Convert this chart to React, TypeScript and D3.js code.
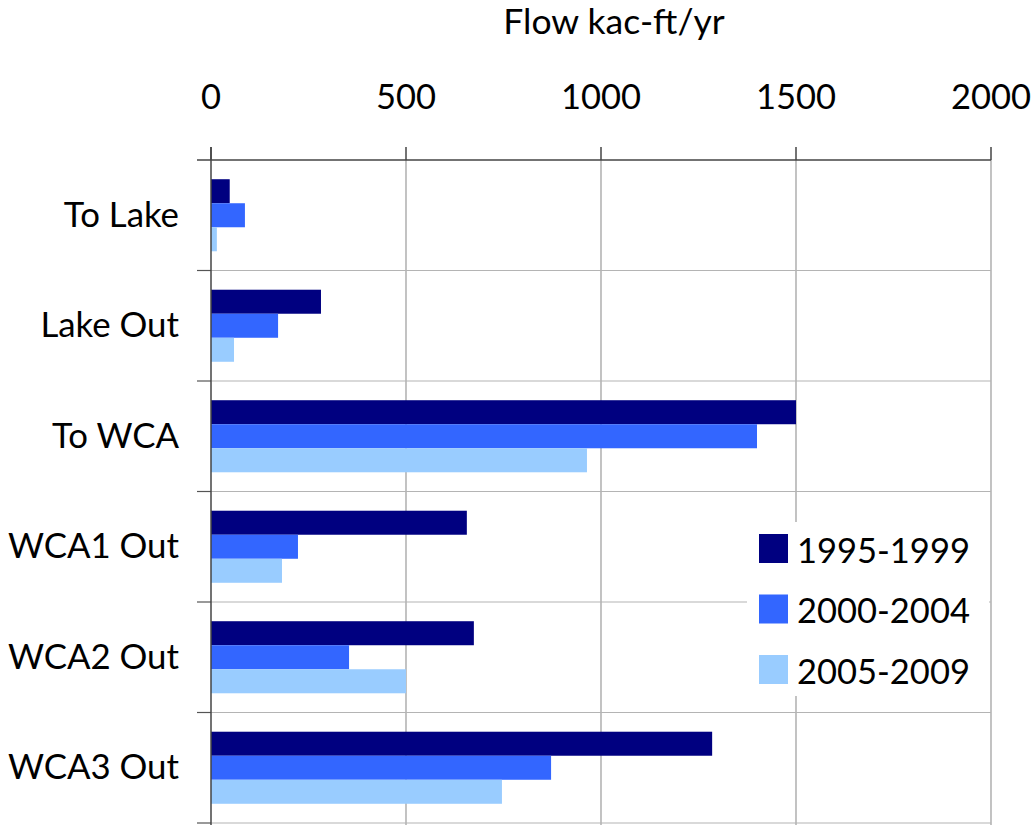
import React from "react";
import * as d3 from "d3";

const categories = ["To Lake", "Lake Out", "To WCA", "WCA1 Out", "WCA2 Out", "WCA3 Out"];
const seriesNames = ["1995-1999", "2000-2004", "2005-2009"];
const values1995 = [48, 282, 1500, 656, 674, 1285];
const values2000 = [87, 172, 1400, 223, 354, 872];
const values2005 = [15, 59, 964, 182, 500, 746];
const xTicks = [0, 500, 1000, 1500, 2000];
const colors = ["#000080", "#3366FF", "#99CCFF"];

const W = 1036;
const H = 825;
const FONT = "Lato, 'Open Sans', sans-serif";

export default function App() {
  const series = [values1995, values2000, values2005];
  const x = d3.scaleLinear().domain([0, 2000]).range([211, 991]);
  const y = d3.scaleBand<string>().domain(categories).range([160, 823]).padding(0);
  const sub = d3
    .scaleBand<string>()
    .domain(seriesNames)
    .range([0, y.bandwidth()])
    .paddingInner(0)
    .paddingOuter(0.8);
  const boundaries = categories.map((c) => (y(c) as number) + y.bandwidth());

  return (
    <svg width={W} height={H} style={{ position: "absolute", left: 0, top: 0, background: "#fff" }}>
      <rect x={0} y={0} width={W} height={H} fill="#fff" />
      {/* vertical gridlines */}
      {xTicks.slice(1).map((t) => (
        <line key={"vg" + t} x1={x(t)} x2={x(t)} y1={160} y2={H} stroke="#9a9a9a" strokeWidth={1.2} />
      ))}
      {/* horizontal category boundaries */}
      {boundaries.map((b, i) => (
        <g key={"hb" + i}>
          <line x1={211} x2={991} y1={b} y2={b} stroke="#b4b4b4" strokeWidth={1.2} />
          <line x1={197} x2={211} y1={b} y2={b} stroke="#555" strokeWidth={1.2} />
        </g>
      ))}
      {/* bars */}
      {categories.map((c, ci) =>
        seriesNames.map((s, si) => (
          <rect
            key={c + s}
            x={x(0)}
            y={(y(c) as number) + (sub(s) as number)}
            width={x(series[si][ci]) - x(0)}
            height={sub.bandwidth()}
            fill={colors[si]}
          />
        ))
      )}
      {/* top axis */}
      <line x1={197} x2={991} y1={160} y2={160} stroke="#444" strokeWidth={1.5} />
      {xTicks.map((t) => (
        <g key={"xt" + t}>
          <line x1={x(t)} x2={x(t)} y1={147} y2={160} stroke="#444" strokeWidth={1.5} />
          <text x={x(t)} y={109} textAnchor="middle" fontFamily={FONT} fontSize={34.5} fill="#000">
            {t}
          </text>
        </g>
      ))}
      {/* y axis */}
      <line x1={211} x2={211} y1={147} y2={H} stroke="#444" strokeWidth={1.5} />
      {categories.map((c) => (
        <text
          key={"yl" + c}
          x={179}
          y={(y(c) as number) + y.bandwidth() / 2 - 2}
          textAnchor="end"
          dominantBaseline="central"
          fontFamily={FONT}
          fontSize={34.8}
          fill="#000"
        >
          {c}
        </text>
      ))}
      {/* title */}
      <text x={614} y={34} textAnchor="middle" fontFamily={FONT} fontSize={35.5} fill="#000">
        Flow kac-ft/yr
      </text>
      {/* legend */}
      <rect x={747} y={522} width={242} height={174} fill="#fff" />
      {seriesNames.map((s, i) => (
        <g key={"lg" + s} transform={`translate(759, ${534 + i * 60.5})`}>
          <rect x={0} y={0} width={29} height={29} fill={colors[i]} />
          <text x={38} y={15} dominantBaseline="central" fontFamily={FONT} fontSize={34.5} fill="#000">
            {s}
          </text>
        </g>
      ))}
    </svg>
  );
}
